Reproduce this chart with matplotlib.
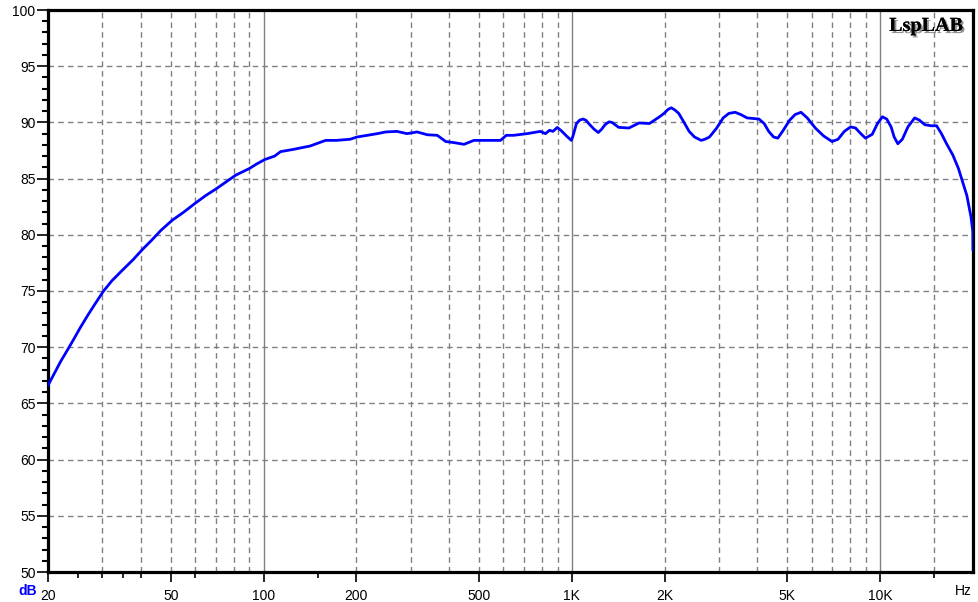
import numpy as np
import matplotlib
matplotlib.use("Agg")
import matplotlib.pyplot as plt
from matplotlib.ticker import FixedLocator, NullFormatter
import matplotlib.patheffects as pe

# ---- data (frequency in Hz, level in dB) ----
freq_hz = [20, 21, 22, 23.3, 24.4, 25.4, 27, 28.5, 30.2, 32.2, 35, 37.8, 40.5, 43.3, 46.5, 50.6,
           55, 60, 65, 70.3, 75.5, 81.2, 90, 95, 101, 108.6, 113.6, 125, 141.6, 159, 172, 191, 201,
           234, 249, 271, 292, 315, 340, 366, 390, 415, 447, 481, 532, 587, 613, 647, 716, 791, 821,
           847, 868, 897, 925, 960, 996, 1009, 1035, 1060, 1087, 1110, 1143, 1180, 1218, 1250, 1282,
           1320, 1350, 1380, 1418, 1531, 1653, 1785, 1925, 1990, 2050, 2102, 2160, 2222, 2300, 2401,
           2500, 2626, 2700, 2795, 2950, 3096, 3230, 3384, 3530, 3700, 3870, 4043, 4204, 4350, 4512,
           4656, 4850, 5087, 5300, 5535, 5800, 6161, 6550, 6978, 7300, 7650, 8018, 8320, 8650, 8961,
           9425, 9800, 10170, 10500, 10850, 11100, 11410, 11800, 12300, 12940, 13400, 13950, 14600,
           15240, 15800, 16420, 17200, 17940, 19100, 19700, 19970, 19990]
spl_db = [66.6, 67.7, 68.75, 69.9, 70.85, 71.7, 72.9, 73.9, 74.95, 75.9, 76.9, 77.8, 78.7, 79.5, 80.4,
          81.3, 82.0, 82.8, 83.5, 84.1, 84.7, 85.3, 85.9, 86.3, 86.7, 87.0, 87.4, 87.6, 87.9, 88.4,
          88.4, 88.5, 88.7, 89.0, 89.15, 89.2, 89.0, 89.15, 88.9, 88.85, 88.3, 88.2, 88.05, 88.4,
          88.4, 88.4, 88.85, 88.85, 89.0, 89.2, 89.0, 89.3, 89.2, 89.55, 89.25, 88.8, 88.4, 88.8,
          89.9, 90.2, 90.3, 90.2, 89.8, 89.4, 89.1, 89.4, 89.8, 90.05, 90.0, 89.8, 89.56, 89.5,
          89.95, 89.9, 90.5, 90.8, 91.15, 91.3, 91.1, 90.8, 90.1, 89.2, 88.7, 88.4, 88.5, 88.7,
          89.5, 90.4, 90.8, 90.9, 90.7, 90.4, 90.35, 90.3, 89.9, 89.2, 88.7, 88.6, 89.3, 90.2,
          90.7, 90.9, 90.4, 89.5, 88.8, 88.3, 88.5, 89.2, 89.6, 89.5, 89.0, 88.6, 88.94, 89.9,
          90.5, 90.3, 89.6, 88.7, 88.1, 88.5, 89.6, 90.4, 90.2, 89.8, 89.7, 89.7, 89.0, 88.1,
          87.1, 85.9, 83.5, 81.6, 80.3, 78.6]

x_major = [20, 50, 100, 200, 500, 1000, 2000, 5000, 10000]
x_major_labels = ["20", "50", "100", "200", "500", "1K", "2K", "5K", "10K"]
x_minor = [25, 30, 35, 40, 60, 150, 15000]
y_major = [50, 55, 60, 65, 70, 75, 80, 85, 90, 95, 100]
grid_dashed_x = [30, 40, 50, 60, 70, 80, 90, 200, 300, 400, 500, 600, 700, 800, 900,
                 2000, 3000, 4000, 5000, 6000, 7000, 8000, 9000, 15000]
grid_solid_x = [100, 1000, 10000]

W, H = 979, 602
fig = plt.figure(figsize=(W / 100, H / 100), dpi=100, facecolor="white")
L, R, T, B = 48, 973, 10, 572
ax = fig.add_axes([L / W, 1 - B / H, (R - L) / W, (B - T) / H])
ax.set_xscale("log")
ax.set_xlim(20, 20000)
ax.set_ylim(50, 100)

grid_kw = dict(color="#808080", lw=1.0, zorder=1)
for gx in grid_dashed_x:
    ax.axvline(gx, ls=(0, (4, 3)), **grid_kw)
for gx in grid_solid_x:
    ax.axvline(gx, ls="-", **grid_kw)
for gy in y_major[1:-1]:
    ax.axhline(gy, ls=(0, (4, 3)), **grid_kw)

ax.plot(freq_hz, spl_db, color="#0000FF", lw=2.0, zorder=3,
        solid_joinstyle="round", solid_capstyle="round")

for s in ax.spines.values():
    s.set_linewidth(2.3)
    s.set_color("black")

font = "Liberation Sans"
ax.xaxis.set_major_locator(FixedLocator(x_major))
ax.set_xticklabels(x_major_labels, fontfamily=font, fontsize=10)
ax.xaxis.set_minor_locator(FixedLocator(x_minor))
ax.xaxis.set_minor_formatter(NullFormatter())
ax.yaxis.set_major_locator(FixedLocator(y_major))
ax.set_yticklabels([str(v) for v in y_major], fontfamily=font, fontsize=10)
ax.yaxis.set_minor_locator(FixedLocator(list(range(50, 101))))
ax.tick_params(axis="x", which="major", direction="out", length=7, width=1.2, pad=5, colors="black")
ax.tick_params(axis="x", which="minor", direction="out", length=4, width=1.2)
ax.tick_params(axis="y", which="major", direction="out", length=8, width=1.2, pad=1)
ax.tick_params(axis="y", which="minor", direction="out", length=4, width=1.5)

fig.text(28 / W, 1 - 591 / H, "dB", color="#0000FF", fontweight="bold", fontfamily=font,
         fontsize=10, ha="center", va="center")
fig.text(963 / W, 1 - 591 / H, "Hz", color="black", fontfamily=font,
         fontsize=10, ha="center", va="center")

fig.text(926 / W, 1 - 26 / H, "LspLAB", fontfamily="Liberation Serif", fontweight="bold",
         fontsize=14.5, ha="center", va="center", color="black",
         path_effects=[pe.withSimplePatchShadow(offset=(1.5, -1.5), shadow_rgbFace="#909090", alpha=1.0),
                       pe.Normal()])

fig.savefig("out.png", dpi=100, facecolor="white")
